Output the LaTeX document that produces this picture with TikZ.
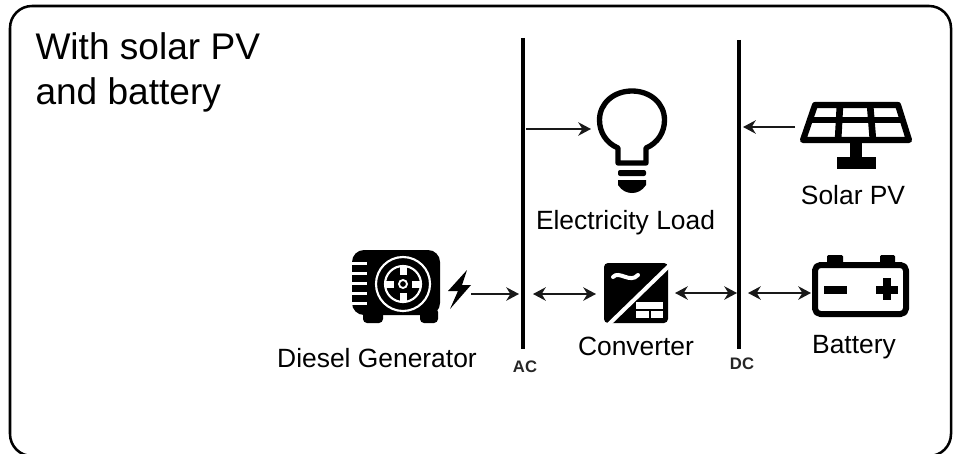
\documentclass[tikz,border=0pt]{standalone}
\usepackage{fontspec}
\setmainfont{Liberation Sans}
\usetikzlibrary{arrows.meta}
\tikzset{
  every node/.style={inner sep=0pt,outer sep=0pt,text=black},
  lab/.style={font=\fontsize{19.8}{24}\selectfont,anchor=center},
  bus/.style={line width=3pt,black},
  conn/.style={line width=2.2pt,black!90,{Stealth[length=9.5pt,width=10pt,inset=3pt]}-{Stealth[length=9.5pt,width=10pt,inset=3pt]}},
  oneway/.style={line width=2.2pt,black!90,-{Stealth[length=9.5pt,width=10pt,inset=3pt]}},
  icon/.style={line width=4pt,black,line join=round},
  buslab/.style={font=\fontsize{12.5}{14}\selectfont\bfseries,text=black!85}
}
\begin{document}
\begin{tikzpicture}[x=0.75pt,y=-0.75pt]
\useasboundingbox (0,0) rectangle (955,453);
\fill[white] (0,0) rectangle (955,453);
\begin{scope}
\clip (0,0) rectangle (955,453);
\draw[line width=1.9pt,rounded corners=16.5pt,black] (10,6) rectangle (951,456);
\end{scope}
\node[anchor=north west,align=left,font=\fontsize{27.8}{34}\selectfont] (title) at (35.5,32.5) {With solar PV\\and battery};
% buses
\coordinate (acT) at (522.5,38); \coordinate (acB) at (522.5,349);
\coordinate (dcT) at (738.5,40); \coordinate (dcB) at (738.5,349);
\draw[bus] (acT) -- (acB);
\draw[bus] (dcT) -- (dcB);
\node[buslab] (ac) at (525,367) {AC};
\node[buslab] (dc) at (742,363.5) {DC};
% labels
\node[lab] (lload) at (625.5,223) {Electricity Load};
\node[lab] (lsolar) at (853,195) {Solar PV};
\node[lab] (lgen) at (377,358) {Diesel Generator};
\node[lab] (lconv) at (636,346) {Converter};
\node[lab] (lbat) at (854,347) {Battery};
% bulb
\draw[icon,line width=4pt] (618,163) -- (618,148) .. controls (606,143) and (599.5,132) .. (599.5,120) .. controls (599.5,103) and (614,91) .. (632,91) .. controls (650,91) and (664.5,103) .. (664.5,120) .. controls (664.5,132) and (658,143) .. (646,148) -- (646,163) -- cycle;
\fill[rounded corners=1.5pt] (618,170) rectangle (646,176);
\fill (618,180) -- (646,180) -- (646,185) .. controls (642,191) and (637,193) .. (632,193) .. controls (627,193) and (622,191) .. (618,185) -- cycle;
% solar panel
\draw[icon,line width=4.6pt] (815,105) -- (898,105) -- (909,140) -- (803,140) -- cycle;
\draw[icon,line width=4pt] (808,120) -- (904,120);
\draw[icon,line width=5pt] (840,104) -- (838,141);
\draw[icon,line width=5pt] (870,104) -- (873,141);
\fill (850,142) rectangle (862,160);
\fill (837,157) rectangle (876,169);
% battery
\fill[rounded corners=1pt] (827,255) rectangle (843,266);
\fill[rounded corners=1pt] (880,255) rectangle (895,266);
\draw[icon,line width=4.5pt,rounded corners=4pt] (815,265) rectangle (906,314);
\fill (824,286) rectangle (847,294);
\fill (876,286) rectangle (898,294);
\fill (883,278) rectangle (891,300);
% converter
\fill[rounded corners=3pt] (604,263) rectangle (668,323);
\draw[white,line width=3pt] (671,264) -- (607,326);
\draw[white,line width=3pt,line cap=round] (613,277) .. controls (619,270) and (630,284) .. (638,275);
\fill[white] (636,302) rectangle (663,318);
\fill (636,308.5) rectangle (663,310.5);
\fill (649,310) rectangle (651,318);
% generator
\fill[rounded corners=9pt] (352,250) -- (440,250) -- (440,315) -- (352,315) -- cycle;
\fill[rounded corners=3pt] (363,308) rectangle (383,323);
\fill[rounded corners=3pt] (420,308) rectangle (438,323);
\foreach \y in {263,273,283,293,303} \fill[white] (348,\y-1.2) rectangle (367,\y+1.8);
\draw[white,line width=1.6pt] (403,284) circle (27);
\draw[white,line width=1.6pt] (403,284) circle (18);
\fill[white] (399.5,267) rectangle (406.5,275);
\fill[white] (399.5,293) rectangle (406.5,301);
\fill[white] (386,280.5) rectangle (394,287.5);
\fill[white] (412,280.5) rectangle (420,287.5);
\draw[white,line width=1.4pt] (403,284) circle (4);
% bolt
\fill (467,270) -- (448,291) -- (458,291) -- (450,309) -- (471,285) -- (462,285) -- cycle;
\coordinate (gen) at (471,294);
\coordinate (acL) at (519,294);
\coordinate (acR) at (533,294);
\coordinate (conv) at (596,294);
\coordinate (convR) at (675,293);
\coordinate (dcL) at (737,293);
\coordinate (dcR) at (748,293);
\coordinate (bat) at (811,293);
\coordinate (load0) at (526,129);
\coordinate (load1) at (591,129);
\coordinate (solar) at (795,127);
\coordinate (solar1) at (743,127);
% connectors
\draw[oneway] (gen) -- (acL);
\draw[conn] (acR) -- (conv);
\draw[conn] (convR) -- (dcL);
\draw[conn] (dcR) -- (bat);
\draw[oneway] (load0) -- (load1);
\draw[oneway] (solar) -- (solar1);
\end{tikzpicture}
\end{document}
